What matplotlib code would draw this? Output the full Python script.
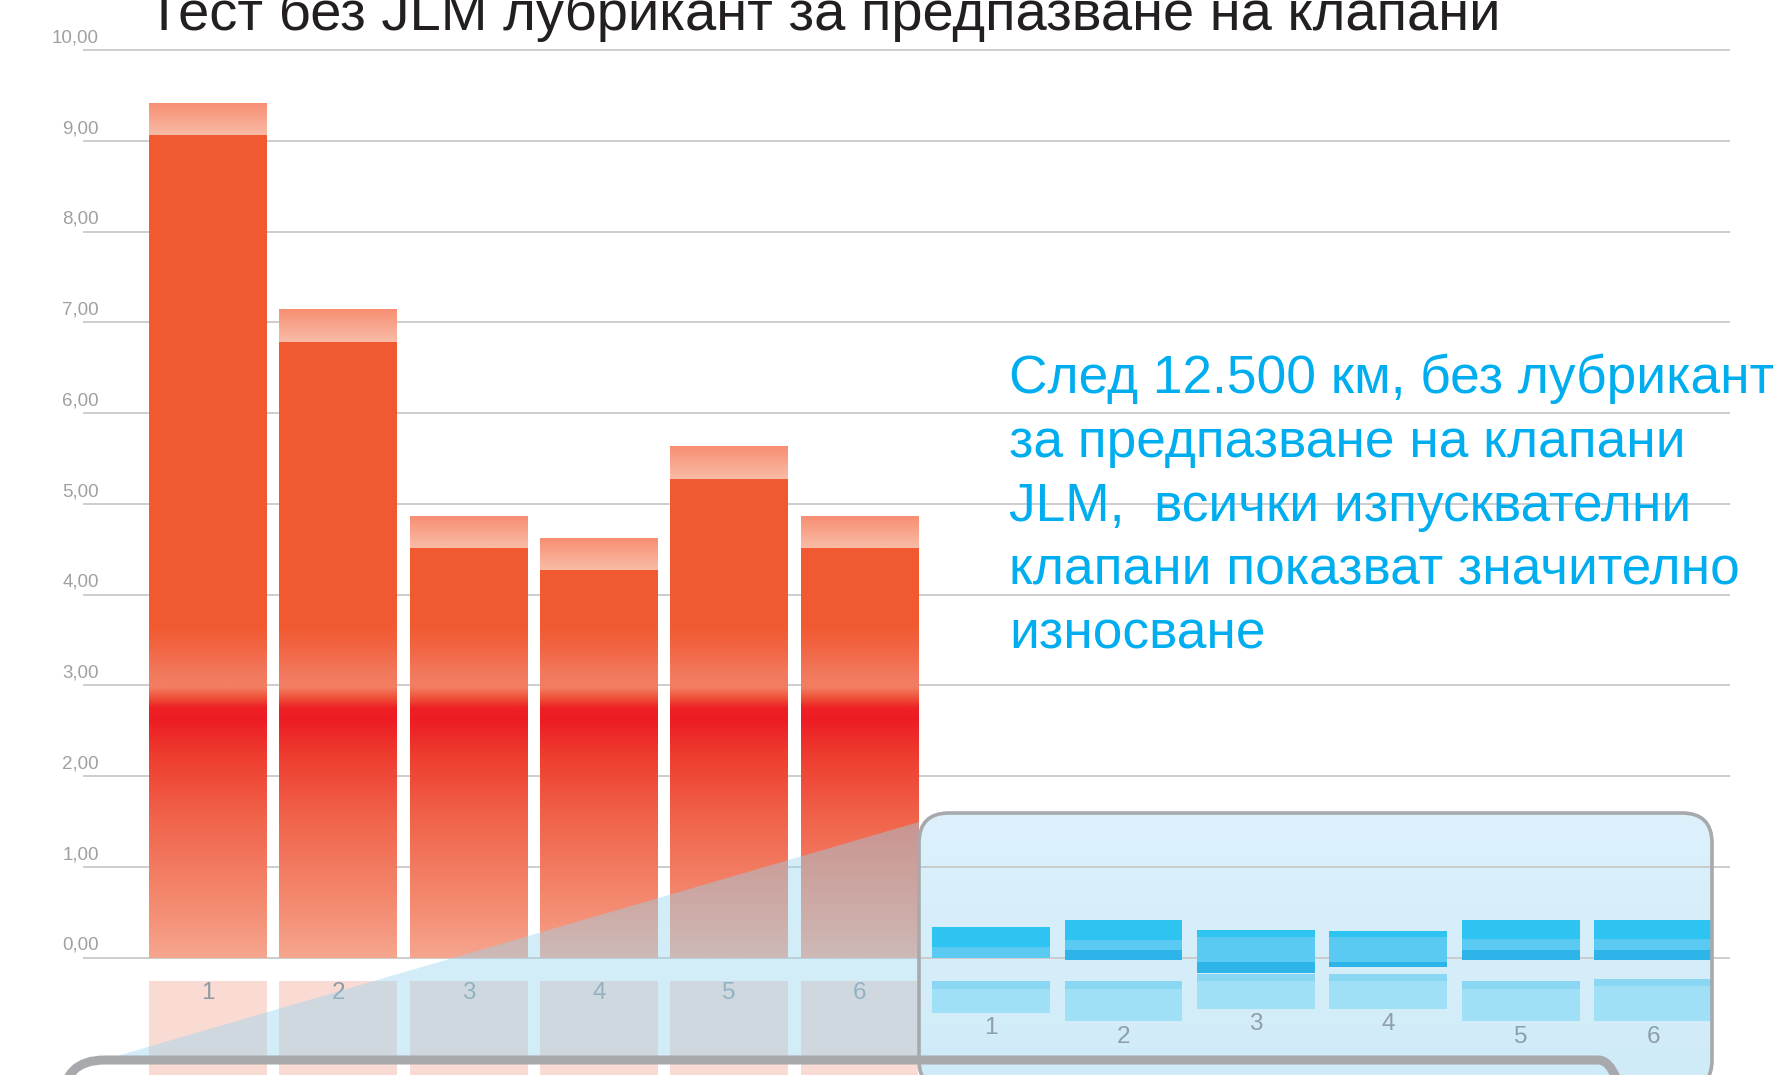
import numpy as np
import matplotlib
matplotlib.use("Agg")
import matplotlib.pyplot as plt
from matplotlib.colors import to_rgb
from matplotlib.patches import FancyBboxPatch

plt.rcParams['font.family'] = ['Liberation Sans', 'DejaVu Sans']

# ---- data ----
title = 'Тест без JLM лубрикант за предпазване на клапани'
note_lines = ['След 12.500 км, без лубрикант',
              'за предпазване на клапани',
              'JLM,  всички изпусквателни',
              'клапани показват значително',
              'износване']
grid_vals = np.arange(0, 11)
cat_labels = ['1', '2', '3', '4', '5', '6']

# without lubricant (red): solid part and light top cap
red_base = [9.07, 6.79, 4.52, 4.27, 5.28, 4.52]
red_total = [9.42, 7.15, 4.87, 4.62, 5.64, 4.87]

# with lubricant (blue, zoomed panel): stacked layers
blue_top = [0.34, 0.42, 0.30, 0.29, 0.42, 0.42]
blue_mid = [0.12, 0.20, 0.23, 0.23, 0.21, 0.21]
blue_low = [0.00, 0.085, -0.045, -0.045, 0.085, 0.085]
blue_bottom = [0.00, -0.02, -0.17, -0.105, -0.02, -0.02]
blue_refl_top = [-0.26, -0.26, -0.18, -0.18, -0.26, -0.23]
blue_refl_bottom = [-0.61, -0.70, -0.565, -0.565, -0.70, -0.70]

# ---- layout (pixel scale of the original) ----
W, H = 1775, 1075
PX_X, X0 = 130.3, 208.0
PX_Y, Y0 = 90.75, 957.7


def gx(px):
    return (px - X0) / PX_X


def gy(py):
    return (Y0 - py) / PX_Y


def vgrad(ax, patch, stops, y0, y1, z):
    ys = np.linspace(y0, y1, 400)
    pos = [s[0] for s in stops]
    cols = np.array([to_rgb(s[1]) for s in stops])
    img = np.stack([np.interp(ys, pos, cols[:, k]) for k in range(3)], axis=-1)[:, None, :]
    x0 = patch.get_x()
    x1 = x0 + patch.get_width()
    im = ax.imshow(img, extent=(x0, x1, y0, y1), origin='lower', aspect='auto',
                   zorder=z, interpolation='bilinear')
    im.set_clip_path(patch)


fig = plt.figure(figsize=(W / 100, H / 100), dpi=100)
ax = fig.add_axes([0, 0, 1, 1])
ax.axis('off')

# zoom panel background
box = FancyBboxPatch((gx(919), gy(1090)), gx(1712) - gx(919), gy(813) - gy(1090),
                     boxstyle='round,pad=0,rounding_size=0.23', mutation_aspect=PX_X / PX_Y,
                     fc='none', ec='#A8A9AC', lw=2.6, zorder=4)
ax.add_patch(box)
vgrad(ax, box, [(gy(1090), '#CFEBF8'), (gy(813), '#DCF1FB')], gy(1090), gy(813), 0.5)

# grid
ax.hlines(grid_vals, gx(83), gx(1730), color='#C9C9C9', lw=1.3, zorder=1)
for v in grid_vals:
    ax.text(gx(99), v + 0.085, f'{v:.2f}'.replace('.', ','), ha='right', va='baseline',
            fontsize=13.5, color='#A0A0A0', zorder=5)

# red bars
pos = np.arange(len(red_base))
width = 0.905
red_stops = [(0.0, '#F6A68F'), (0.5, '#F48E74'), (1.0, '#F27A60'), (1.55, '#F0634A'),
             (2.25, '#EE3B2E'), (2.62, '#ED1C24'), (2.75, '#ED2025'), (2.86, '#EF5038'),
             (2.98, '#F27E62'), (3.10, '#F27B5F'), (3.40, '#F16645'), (3.65, '#F15A31'),
             (10.0, '#F15A31')]
base_bars = ax.bar(pos, red_base, width, color='none', lw=0, zorder=2)
cap_h = np.array(red_total) - np.array(red_base)
cap_bars = ax.bar(pos, cap_h, width, bottom=red_base, color='none', lw=0, zorder=2)
for b, cb, lo, hi in zip(base_bars, cap_bars, red_base, red_total):
    vgrad(ax, b, red_stops, 0, lo, 2)
    vgrad(ax, cb, [(lo, '#F9BCA7'), (hi, '#F78E72')], lo, hi, 2)

# red reflections
ax.bar(pos, -2.0, width, bottom=-0.26, color='#FADBD3', lw=0, zorder=2)
for p, lab in zip(pos, cat_labels):
    ax.text(p, -0.39, lab, ha='center', va='center', fontsize=17.5, color='#8E99A3', zorder=2.5)

# callout triangle
ax.fill([gx(110), gx(919), gx(919)], [gy(1058), gy(822), gy(1058)],
        color='#97D6F0', alpha=0.42, lw=0, zorder=3)

# blue bars
bpos = 6.01 + 1.016 * np.arange(len(blue_top))
low = np.array(blue_low)
mid = np.array(blue_mid)
top = np.array(blue_top)
bot = np.array(blue_bottom)
ax.bar(bpos, low - bot, width, bottom=bot, color='#2DB5EA', lw=0, zorder=3)
ax.bar(bpos, mid - low, width, bottom=low, color='#5BCAF3', lw=0, zorder=3)
ax.bar(bpos, top - mid, width, bottom=mid, color='#2EC4F2', lw=0, zorder=3)
rt = np.array(blue_refl_top)
rb = np.array(blue_refl_bottom)
ax.bar(bpos, rb - rt, width, bottom=rt, color='#A0E0F7', lw=0, zorder=3)
ax.bar(bpos, -0.08, width, bottom=rt, color='#8AD7F3', lw=0, zorder=3)
for p, lab, r in zip(bpos, cat_labels, rb):
    ax.text(p, r - 0.17, lab, ha='center', va='center', fontsize=17.5, color='#8E9FAA', zorder=3.5)

# bottom frame of next panel
frame = FancyBboxPatch((gx(63), gy(1400)), gx(1640) - gx(63), gy(1060) - gy(1400),
                       boxstyle='round,pad=0,rounding_size=0.32', mutation_aspect=PX_X / PX_Y,
                       fc='none', ec='#A7A9AC', lw=6.5, zorder=4.5)
ax.add_patch(frame)

ax.set_xlim(gx(0), gx(W))
ax.set_ylim(gy(H), gy(0))

# texts
fig.text(147 / W, 1 - 30.5 / H, title, fontsize=40.4, color='#231F20', ha='left', va='baseline')
for i, line in enumerate(note_lines):
    fig.text(1009 / W, 1 - (393.3 + 63.7 * i) / H, line, fontsize=38.3, color='#00AEEF',
             ha='left', va='baseline', zorder=6)

fig.savefig('out.png', dpi=100)
